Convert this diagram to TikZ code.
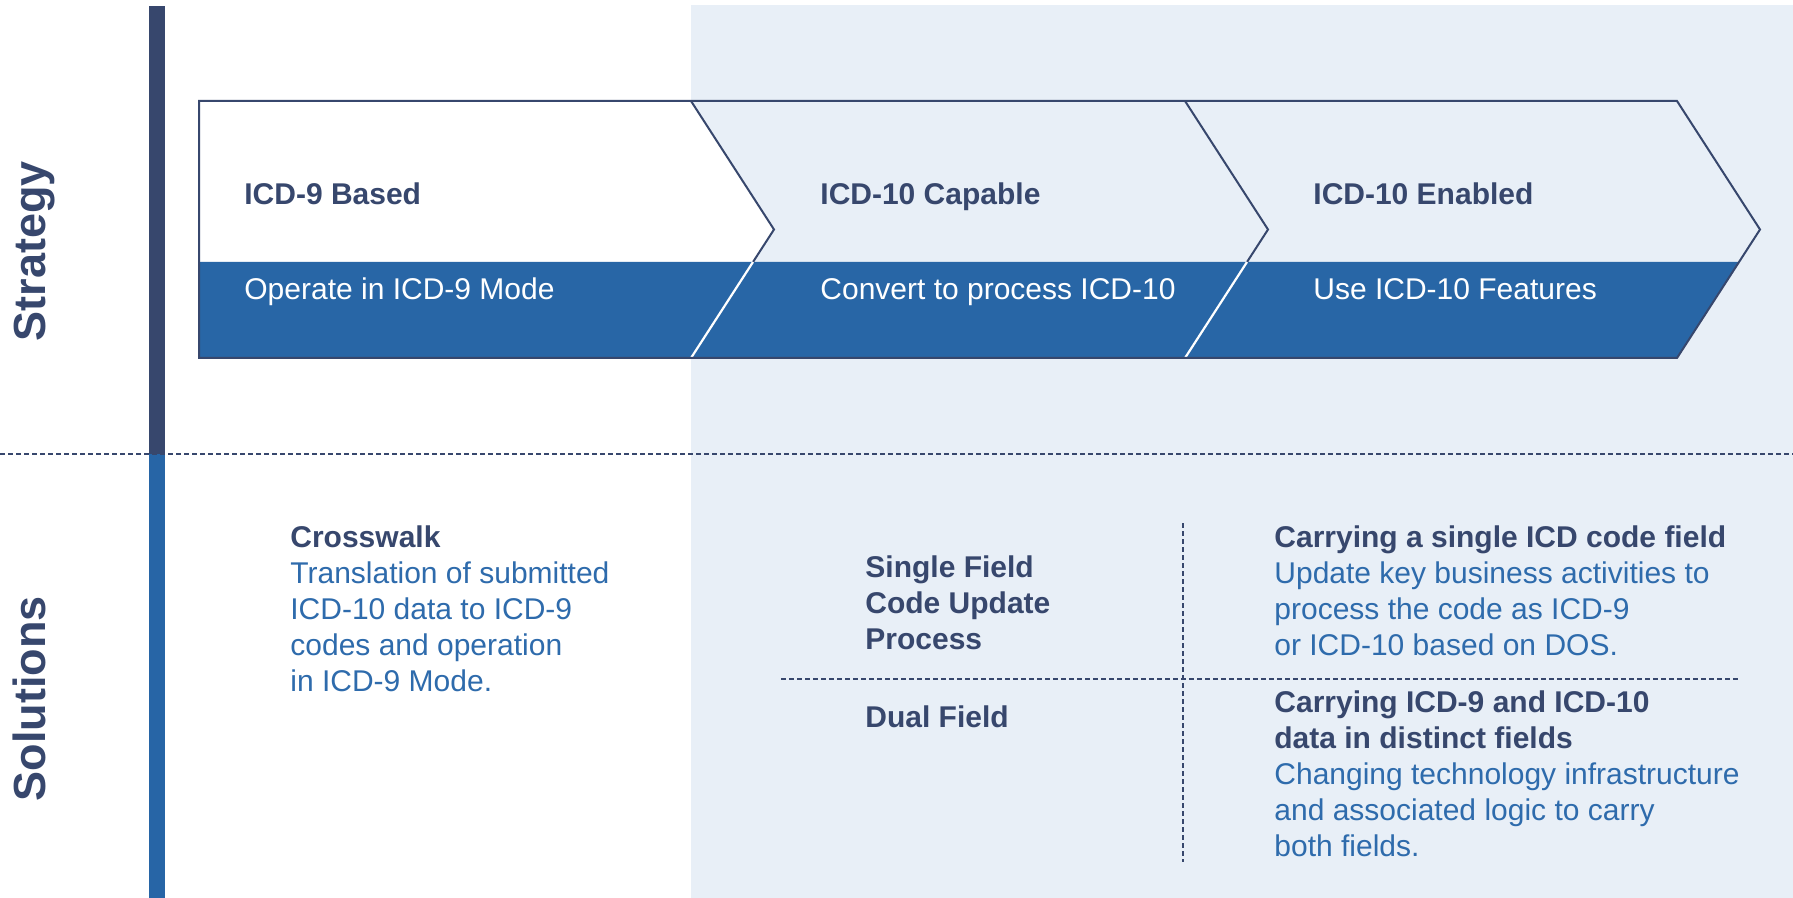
\documentclass[tikz,border=0pt]{standalone}
\usepackage{fontspec}
\setmainfont{Liberation Sans}
\definecolor{navy}{HTML}{37476D}
\definecolor{barblue}{HTML}{2765A6}
\definecolor{bandblue}{HTML}{2866A6}
\definecolor{bodyblue}{HTML}{2E6BAC}
\definecolor{lightbg}{HTML}{E8EFF7}
\newcommand{\mlines}[1]{\begin{tabular}[t]{@{}l@{}}#1\end{tabular}}
\begin{document}
\begin{tikzpicture}[x=0.5pt,y=-0.5pt,
  outline/.style={draw=navy, line width=1pt, line join=miter},
  divline/.style={draw=white, line width=1.1pt},
  dotline/.style={draw=navy, line width=1pt, dash pattern=on 2.5pt off 1.5pt},
  hdr/.style={font=\fontsize{15}{18}\selectfont\bfseries, text=navy, anchor=base west, inner sep=0pt},
  subt/.style={font=\fontsize{15}{18}\selectfont, text=white, anchor=base west, inner sep=0pt},
  blk/.style={font=\fontsize{15}{18}\selectfont, text=bodyblue, anchor=base west, inner sep=0pt},
  side/.style={font=\fontsize{22.5}{27}\selectfont\bfseries, text=navy, rotate=90, anchor=base, inner sep=0pt}]
\useasboundingbox (0,0) rectangle (1793,898);
% backgrounds
\fill[white] (0,0) rectangle (1793,898);
\fill[lightbg] (691,5) rectangle (1793,898);
% vertical bar
\fill[navy] (149,6) rectangle (165,454);
\fill[barblue] (149,454) rectangle (165,898);
% chevron blocks
\fill[white] (199,101) -- (691,101) -- (774,229.5) -- (691,358) -- (199,358) -- cycle;
\fill[lightbg] (691,101) -- (1185,101) -- (1268,229.5) -- (1185,358) -- (691,358) -- (774,229.5) -- cycle;
\fill[lightbg] (1185,101) -- (1677,101) -- (1760,229.5) -- (1677,358) -- (1185,358) -- (1268,229.5) -- cycle;
% band
\fill[bandblue] (199,262) -- (1739,262) -- (1677,358) -- (199,358) -- cycle;
% dividers
\draw[outline] (691,101) -- (774,229.5) -- (753,262);
\draw[outline] (1185,101) -- (1268,229.5) -- (1247,262);
\draw[divline] (753,262) -- (691,358);
\draw[divline] (1247,262) -- (1185,358);
\draw[outline] (199,101) -- (1677,101) -- (1760,229.5) -- (1677,358) -- (199,358) -- cycle;
% strategy texts
\node[hdr] (h1) at (244,205) {ICD-9 Based};
\node[hdr] (h2) at (820,205) {ICD-10 Capable};
\node[hdr] (h3) at (1313,205) {ICD-10 Enabled};
\node[subt] (s1) at (244,300) {Operate in ICD-9 Mode};
\node[subt] (s2) at (820,300) {Convert to process ICD-10};
\node[subt] (s3) at (1313,300) {Use ICD-10 Features};
% side labels
\node[side] (strat) at (45,251) {Strategy};
\node[side] (sol) at (45,699) {Solutions};
% dotted separators
\coordinate (dl) at (0,454);
\coordinate (dr) at (1793,454);
\draw[dotline] (dl) -- (dr);
\coordinate (ml) at (781,679);
\coordinate (mr) at (1739,679);
\draw[dotline] (ml) -- (mr);
\coordinate (vt) at (1183,523);
\coordinate (vb) at (1183,862);
\draw[dotline] (vt) -- (vb);
% solutions texts
\node[blk] (cw) at (290,547) {\mlines{{\bfseries\color{navy}Crosswalk}\\Translation of submitted\\ICD-10 data to ICD-9\\codes and operation\\in ICD-9 Mode.}};
\node[hdr] (sf) at (865,577) {\mlines{Single Field\\Code Update\\Process}};
\node[hdr] (df) at (865,727) {Dual Field};
\node[blk] (r1) at (1274,547) {\mlines{{\bfseries\color{navy}Carrying a single ICD code field}\\Update key business activities to\\process the code as ICD-9\\or ICD-10 based on DOS.}};
\node[blk] (r2) at (1274,712) {\mlines{{\bfseries\color{navy}Carrying ICD-9 and ICD-10}\\{\bfseries\color{navy}data in distinct fields}\\Changing technology infrastructure\\and associated logic to carry\\both fields.}};
\end{tikzpicture}
\end{document}
